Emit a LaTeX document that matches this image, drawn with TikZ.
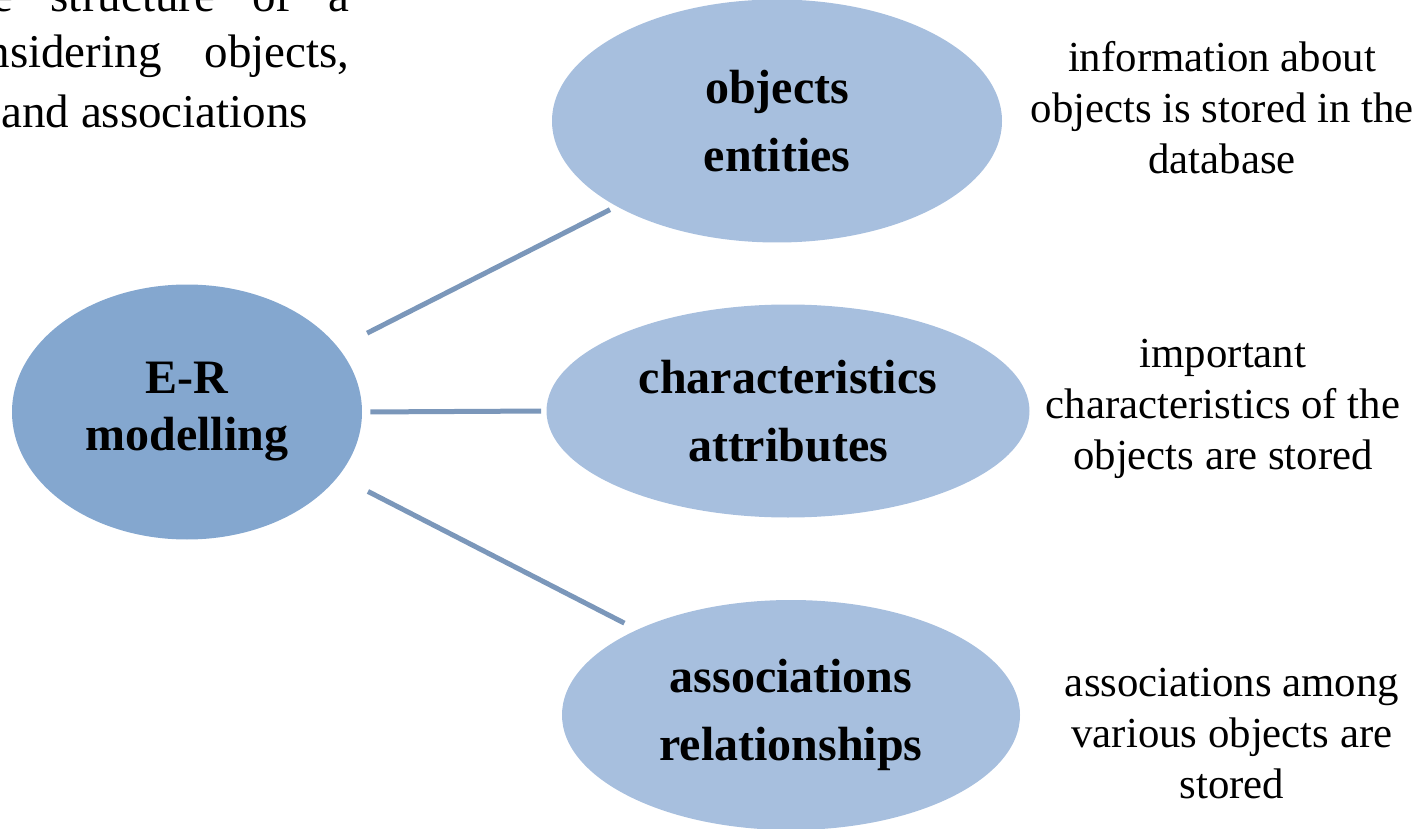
\documentclass[tikz,border=0pt]{standalone}
\usepackage{fontspec}
\setmainfont{Liberation Serif}
\usetikzlibrary{shapes.geometric}
\definecolor{erfill}{HTML}{84A7CF}
\definecolor{boxfill}{HTML}{A7BFDE}
\definecolor{linkcol}{HTML}{7B97BA}
\tikzset{
  bubble/.style={ellipse, fill=boxfill, inner sep=0pt, align=center,
    font=\fontsize{24}{34}\selectfont\bfseries},
  note/.style={align=center, inner sep=0pt, font=\fontsize{21.4}{25.5}\selectfont},
  intro/.style={inner sep=0pt, font=\fontsize{23.5}{29}\selectfont},
  link/.style={draw=linkcol, line width=2.5pt}
}

\begin{document}
\begin{tikzpicture}[x=0.5pt,y=-0.5pt]
			%%%%% START %%%%%
			\useasboundingbox (0,0) rectangle (1426,829);
			\clip (0,0) rectangle (1426,829);
			
			\node[intro, anchor=base east] (introa) at (350,12) {\makebox[178.5pt][s]{e structure of a}};
			\node[intro, anchor=base east] (introb) at (350,68) {\makebox[181.5pt][s]{nsidering objects,}};
			\node[intro, anchor=base west] (introc) at (1,128) {and associations};
			
			\node[bubble, fill=erfill, minimum width=175pt, minimum height=127.5pt,
			  font=\fontsize{24}{28.5}\selectfont\bfseries] (er) at (187,412) {E-R\\modelling};
			
			\node[bubble, minimum width=225pt, minimum height=121.5pt] (obj) at (777,121) {objects\\entities};
			\node[bubble, minimum width=241.5pt, minimum height=106.5pt] (attr) at (788,411) {characteristics\\attributes};
			\node[bubble, minimum width=229pt, minimum height=115pt] (rel) at (791,715) {associations\\relationships};
			
			\draw[link, shorten <=16pt, shorten >=3.5pt] (er.23) -- (obj.208);
			\draw[link, shorten <=4pt, shorten >=2.5pt] (er.east) -- (attr.west);
			\draw[link, shorten <=16.5pt, shorten >=7pt] (er.-23) -- (rel.151.6);
			
			\node[note] (objnote) at (1222,108) {information about\\objects is stored in the\\database};
			\node[note] (attrnote) at (1223,409) {important\\characteristics of the\\objects are stored};
			\node[note] (relnote) at (1232,734) {associations among\\various objects are\\stored};
			%%%%% END %%%%%
\end{tikzpicture}
\end{document}
